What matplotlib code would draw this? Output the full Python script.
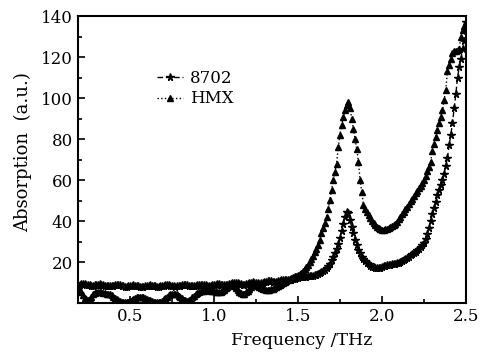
import numpy as np
import matplotlib
matplotlib.use("Agg")
import matplotlib.pyplot as plt
from matplotlib.ticker import MultipleLocator, FixedLocator

# frequency grid of the spectra (THz), 0.01 step
freq = np.round(np.arange(0.20, 2.505, 0.01), 2)

# 8702 absorption, one row per 0.1 THz
abs_8702 = [
    9.0, 9.2, 9.3, 9.2, 9.0, 8.8, 8.6, 8.5, 8.5, 8.6,
    8.8, 9.0, 9.1, 9.0, 8.8, 8.5, 8.3, 8.2, 8.2, 8.3,
    8.5, 8.7, 8.8, 8.8, 8.6, 8.4, 8.2, 8.0, 8.0, 8.1,
    8.3, 8.5, 8.6, 8.5, 8.3, 8.1, 7.9, 7.8, 7.9, 8.1,
    8.3, 8.5, 8.6, 8.5, 8.3, 8.1, 8.0, 8.0, 8.1, 8.3,
    8.5, 8.7, 8.8, 8.7, 8.5, 8.3, 8.1, 8.0, 8.1, 8.3,
    8.5, 8.7, 8.8, 8.8, 8.6, 8.4, 8.2, 8.1, 8.2, 8.4,
    8.6, 8.8, 9.0, 9.0, 8.8, 8.6, 8.4, 8.3, 8.4, 8.6,
    8.8, 9.0, 9.2, 9.2, 9.0, 8.8, 8.6, 8.6, 8.8, 9.1,
    9.4, 9.7, 9.9, 9.9, 9.7, 9.4, 9.1, 8.9, 8.9, 9.1,
    9.4, 9.7, 10.0, 10.1, 10.0, 9.8, 9.6, 9.5, 9.6, 9.8,
    10.1, 10.4, 10.6, 10.7, 10.6, 10.5, 10.4, 10.5, 10.7, 11.0,
    11.2, 11.4, 11.5, 11.5, 11.4, 11.4, 11.5, 11.7, 11.9, 12.1,
    12.3, 12.5, 12.6, 12.7, 12.8, 12.9, 13.0, 13.1, 13.2, 13.3,
    13.5, 13.8, 14.1, 14.5, 15.0, 15.5, 16.2, 17.0, 18.0, 19.3,
    20.8, 22.4, 24.2, 26.2, 28.8, 31.8, 35.0, 38.5, 42.0, 44.5,
    44.0, 40.5, 37.0, 34.0, 31.0, 28.3, 26.0, 24.2, 22.7, 21.5,
    20.5, 19.6, 18.9, 18.3, 17.8, 17.4, 17.1, 17.0, 17.1, 17.3,
    17.6, 17.9, 18.2, 18.4, 18.6, 18.8, 19.0, 19.2, 19.3, 19.5,
    19.7, 20.0, 20.4, 20.9, 21.5, 22.1, 22.7, 23.3, 23.9, 24.4,
    25.0, 25.7, 26.4, 27.2, 28.2, 29.5, 31.2, 33.5, 36.5, 40.0,
    43.5, 46.5, 49.5, 52.5, 55.0, 57.5, 60.0, 63.0, 67.0, 71.0,
    77.0, 82.0, 88.0, 95.0, 102.0, 110.0, 115.0, 119.0, 124.0, 128.0,
    137.0,
]

# HMX absorption
abs_hmx = [
    6.5, 5.2, 3.8, 2.6, 1.8, 1.6, 2.2, 3.2, 4.2, 4.8,
    5.2, 5.4, 5.4, 5.3, 5.1, 4.8, 4.6, 4.4, 4.2, 3.8,
    3.2, 2.6, 2.0, 1.5, 1.0, 0.7, 0.5, 0.4, 0.4, 0.6,
    1.0, 1.5, 2.0, 2.5, 2.8, 3.0, 3.1, 3.0, 2.8, 2.5,
    2.1, 1.7, 1.3, 0.9, 0.6, 0.4, 0.3, 0.4, 0.7, 1.2,
    1.8, 2.5, 3.2, 3.8, 4.2, 4.5, 4.6, 4.5, 4.2, 3.7,
    3.0, 2.3, 1.7, 1.3, 1.2, 1.5, 2.0, 2.8, 3.6, 4.4,
    5.0, 5.5, 5.8, 6.0, 6.1, 6.2, 6.3, 6.2, 6.1, 6.0,
    5.8, 5.6, 5.4, 5.3, 5.4, 5.8, 6.5, 7.3, 8.0, 8.6,
    8.9, 8.8, 8.3, 7.5, 6.5, 5.5, 4.8, 4.5, 4.6, 5.2,
    6.0, 7.0, 7.9, 8.6, 8.9, 8.8, 8.5, 8.0, 7.5, 7.1,
    6.8, 6.6, 6.5, 6.5, 6.7, 7.0, 7.5, 8.0, 8.5, 8.9,
    9.3, 9.7, 10.1, 10.6, 11.1, 11.6, 12.1, 12.6, 13.0, 13.4,
    13.8, 14.3, 14.9, 15.6, 16.5, 17.5, 18.6, 19.9, 21.4, 23.0,
    24.7, 26.5, 28.5, 31.0, 34.0, 36.5, 39.3, 42.0, 46.0, 50.5,
    55.0, 60.0, 64.0, 68.0, 76.0, 82.0, 87.0, 91.0, 94.0, 96.5,
    98.0, 95.0, 90.0, 85.0, 80.0, 75.0, 69.0, 60.0, 54.0, 48.0,
    46.0, 44.5, 43.0, 41.5, 40.0, 39.0, 38.0, 37.3, 36.6, 36.0,
    35.8, 35.8, 36.0, 36.3, 36.6, 37.0, 37.4, 38.0, 38.8, 39.7,
    40.8, 42.0, 43.3, 44.5, 45.8, 47.0, 48.3, 49.6, 51.0, 52.3,
    53.5, 54.8, 56.0, 57.3, 58.6, 60.0, 62.0, 64.2, 66.5, 69.0,
    74.0, 77.5, 81.0, 84.5, 88.0, 91.0, 94.0, 99.0, 104.0, 113.0,
    116.0, 119.0, 122.0, 123.0, 123.0, 123.5, 124.0, 130.0, 133.0, 135.0,
    137.0,
]

series_names = ["8702", "HMX"]
x_ticks = [0.5, 1.0, 1.5, 2.0, 2.5]
y_ticks = [20, 40, 60, 80, 100, 120, 140]

plt.rcParams['font.family'] = ['DejaVu Serif']
plt.rcParams['font.size'] = 12

fig = plt.figure(figsize=(4.92, 3.57), dpi=100)
ax = fig.add_axes([0.1585, 0.151, 0.7885, 0.804])

ax.plot(freq, abs_8702, color='black', linestyle=(0, (4, 2)), linewidth=1.0,
        marker='*', markersize=5.5, label=series_names[0])
ax.plot(freq, abs_hmx, color='black', linestyle=':', linewidth=1.0,
        marker='^', markersize=5, label=series_names[1])

ax.set_xlim(0.19, 2.5)
ax.set_ylim(0, 140)
ax.xaxis.set_major_locator(FixedLocator(x_ticks))
ax.xaxis.set_minor_locator(MultipleLocator(0.25))
ax.yaxis.set_major_locator(FixedLocator(y_ticks))
ax.yaxis.set_minor_locator(MultipleLocator(10))
ax.set_xticklabels([f"{t:.1f}" for t in x_ticks])
ax.set_yticklabels([str(t) for t in y_ticks])
ax.tick_params(which='both', direction='in', top=False, right=False, width=1.2)
ax.tick_params(which='major', length=5)
ax.tick_params(which='minor', length=3)
for sp in ax.spines.values():
    sp.set_linewidth(1.5)

ax.set_xlabel("Frequency /THz", fontsize=12.5)
ax.set_ylabel("Absorption  (a.u.)", fontsize=13)
ax.xaxis.set_label_coords(0.577, -0.1)
ax.yaxis.set_label_coords(-0.119, 0.526)

ax.legend(loc='upper left', bbox_to_anchor=(0.186, 0.835), frameon=False,
          handlelength=1.6, handletextpad=0.4, labelspacing=0.2, borderaxespad=0)

fig.savefig("out.png", dpi=100)
